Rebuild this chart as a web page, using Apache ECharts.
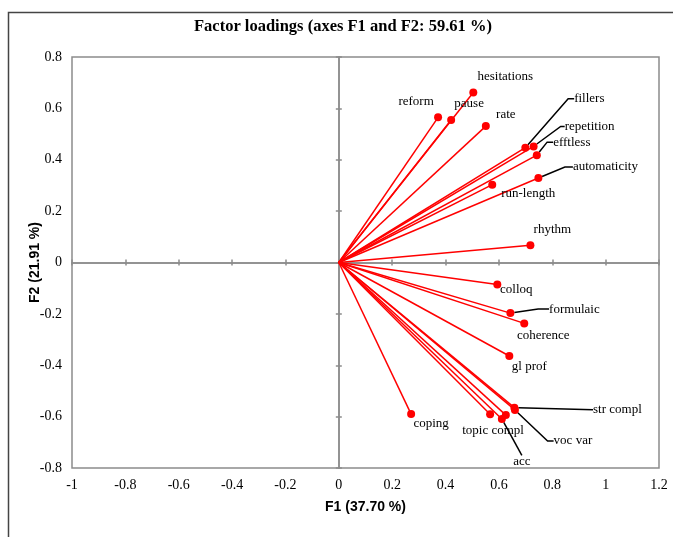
<!DOCTYPE html>
<html>
<head>
<meta charset="utf-8">
<script src="https://cdn.jsdelivr.net/npm/echarts@6/dist/echarts.min.js"></script>
<style>
  html, body { margin: 0; padding: 0; background: #fff; }
  #loadings { width: 673px; height: 537px; }
</style>
</head>
<body>
<div id="loadings"></div>
<script>
// variable names and their loadings on F1 / F2
const names = [
  "hesitations", "reform", "pause", "rate", "fillers", "repetition",
  "efftless", "automaticity", "run-length", "rhythm",
  "colloq", "formulaic", "coherence", "gl prof", "coping",
  "topic compl", "", "acc", "str compl", "voc var"
];
const f1 = [
  0.504, 0.372, 0.421, 0.551, 0.699, 0.730,
  0.742, 0.748, 0.575, 0.718,
  0.594, 0.643, 0.695, 0.639, 0.271,
  0.567, 0.626, 0.611, 0.658, 0.660
];
const f2 = [
  0.662, 0.565, 0.555, 0.531, 0.447, 0.452,
  0.418, 0.329, 0.303, 0.067,
  -0.086, -0.197, -0.237, -0.364, -0.590,
  -0.591, -0.594, -0.609, -0.565, -0.574
];
const xRange = [-1, 1.2];
const yRange = [-0.8, 0.8];
const tickStep = 0.2;

const titleText = "Factor loadings (axes F1 and F2: 59.61 %)";
const xTitle = "F1 (37.70 %)";
const yTitle = "F2 (21.91 %)";

// label placement: [dx, dy] in px from the point, optional 3rd = leader elbow length
const labelPlace = {
  "hesitations": [32, -16],
  "reform": [-22, -16],
  "pause": [18, -16],
  "rate": [20, -12],
  "fillers": [64, -49, 6],
  "repetition": [56, -20, 4],
  "efftless": [35, -13, 6],
  "automaticity": [67, -11, 8],
  "run-length": [36, 9],
  "rhythm": [22, -16],
  "colloq": [19, 5],
  "formulaic": [64, -4, 11],
  "coherence": [19, 12],
  "gl prof": [20, 11],
  "coping": [20, 10],
  "topic compl": [3, 16],
  "acc": [20, 43, 0],
  "str compl": [103, 2, 0],
  "voc var": [58, 31, 6]
};

const serif = "'Liberation Serif', 'DejaVu Serif', serif";
const sans = "'Liberation Sans', Arial, sans-serif";
const axisGray = "#8c8c8c";
const fmt = (v) => (Math.round(v * 10) / 10).toString();

const chart = echarts.init(document.getElementById("loadings"));

const points = names.map((n, i) => {
  const pl = labelPlace[n];
  const lead = pl && pl.length > 2;
  return {
    name: n,
    value: [f1[i], f2[i]],
    label: lead ? { show: true, padding: [2, 3] } : { show: n !== "" },
    labelLine: lead
      ? { show: true, length2: pl[2], lineStyle: { color: "#000", width: 1.5 } }
      : { show: false }
  };
});

const vectors = names.map((n, i) => ({
  coords: [[0, 0], [f1[i], f2[i]]]
}));

// axes drawn through zero, ticks on both sides (one axis outside, one inside)
const zeroAxis = (range, pos, inside) => ({
  type: "value",
  min: range[0],
  max: range[1],
  interval: tickStep,
  position: pos,
  axisLine: { show: true, onZero: true, lineStyle: { color: axisGray, width: 1.5 } },
  axisTick: { show: true, inside: inside, length: 3, lineStyle: { color: axisGray, width: 1.5 } },
  axisLabel: { show: false },
  splitLine: { show: false }
});

function makeAxes(range, pos, title, gap) {
  const main = {
    type: "value",
    min: range[0],
    max: range[1],
    interval: tickStep,
    position: pos,
    axisLine: { show: false, onZero: false },
    axisTick: { show: false },
    splitLine: { show: false },
    axisLabel: {
      margin: 10,
      color: "#000",
      fontFamily: serif,
      fontSize: 14,
      formatter: fmt
    },
    name: title,
    nameLocation: "middle",
    nameGap: gap,
    nameMoveOverlap: false,
    nameTextStyle: {
      fontFamily: sans,
      fontWeight: "bold",
      fontSize: 14,
      color: "#000"
    }
  };
  return [main, zeroAxis(range, pos, false), zeroAxis(range, pos, true)];
}

const option = {
  backgroundColor: "#fff",
  animation: false,
  title: {
    text: titleText,
    left: 194,
    top: 18,
    padding: 0,
    textStyle: {
      fontFamily: serif,
      fontWeight: "bold",
      fontSize: 16.5,
      color: "#000"
    }
  },
  grid: {
    left: 72,
    right: 14,
    top: 57,
    bottom: 69,
    show: true,
    borderColor: axisGray,
    borderWidth: 1.5,
    backgroundColor: "transparent"
  },
  xAxis: makeAxes(xRange, "bottom", xTitle, 32),
  yAxis: makeAxes(yRange, "left", yTitle, 30),
  graphic: [
    {
      type: "polyline",
      shape: { points: [[8.5, 537], [8.5, 12.5], [673, 12.5]] },
      style: { stroke: "#444", lineWidth: 1.5, fill: null },
      silent: true
    }
  ],
  series: [
    {
      type: "lines",
      coordinateSystem: "cartesian2d",
      xAxisIndex: 0,
      yAxisIndex: 0,
      data: vectors,
      lineStyle: { color: "#ff0000", width: 1.5, opacity: 1 },
      silent: true,
      z: 3
    },
    {
      type: "scatter",
      xAxisIndex: 0,
      yAxisIndex: 0,
      data: points,
      symbol: "circle",
      symbolSize: 8,
      itemStyle: { color: "#ff0000", opacity: 1 },
      label: {
        show: true,
        position: "inside",
        formatter: "{b}",
        color: "#000",
        textBorderWidth: 0,
        fontFamily: serif,
        fontSize: 13
      },
      labelLayout: function (p) {
        const pl = labelPlace[names[p.dataIndex]];
        return pl ? { dx: pl[0], dy: pl[1] } : {};
      },
      emphasis: { disabled: true },
      z: 4
    }
  ]
};

chart.setOption(option);
</script>
</body>
</html>
